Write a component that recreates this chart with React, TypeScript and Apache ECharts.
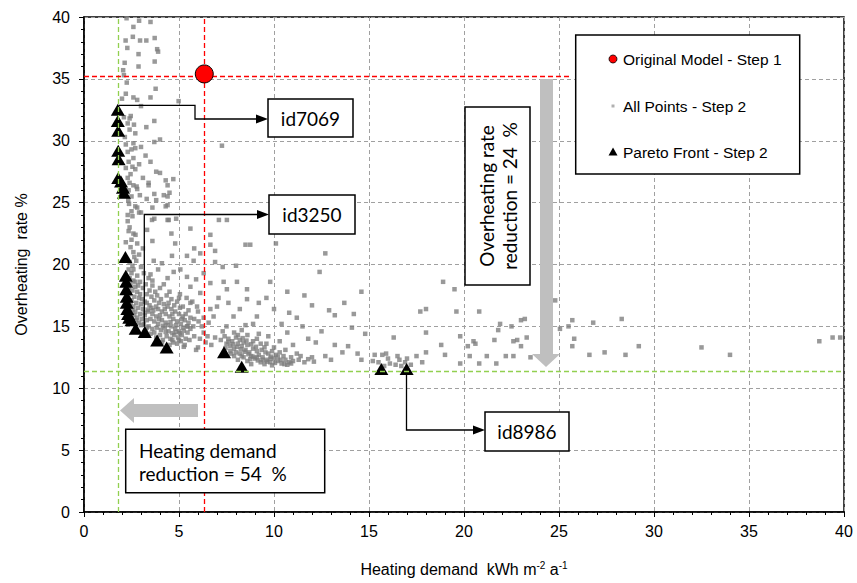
import React, { useEffect, useRef } from "react";
import * as echarts from "echarts";

// ---------- DATA ----------
const xTickValues = [0, 5, 10, 15, 20, 25, 30, 35, 40];
const yTickValues = [0, 5, 10, 15, 20, 25, 30, 35, 40];

const originalModel: [number, number][] = [[6.33, 35.4]];

const paretoFront: [number, number][] = [
  [1.78, 32.5], [1.78, 31.6], [1.8, 30.8], [1.8, 29.2], [1.82, 28.5], [1.8, 27.0],
  [1.95, 26.7], [2.05, 26.2], [2.1, 25.8], [2.18, 20.6], [2.2, 19.1], [2.22, 18.6],
  [2.22, 18.0], [2.25, 17.4], [2.25, 16.9], [2.28, 16.4], [2.32, 16.0], [2.38, 15.7],
  [2.5, 15.5], [2.72, 14.8], [3.2, 14.55], [3.85, 13.85], [4.35, 13.3], [7.37, 12.9],
  [8.3, 11.74], [15.65, 11.55], [16.98, 11.55],
];

const pointsTop: [number, number][] = [
  [2.24, 39.9], [3.5, 39.6], [2.6, 39.2], [2.9, 39.7], [2.19, 38.1], [2.57, 38.4], [2.95, 38.1],
  [3.28, 38.1], [3.72, 38.3], [3.85, 37.4], [2.28, 37.5], [2.87, 37.0], [3.9, 37.2], [3.72, 36.4],
  [2.14, 36.3], [2.87, 36.0], [2.06, 35.7], [2.1, 35.3], [2.25, 34.7], [3.77, 34.2], [2.2, 33.8],
  [2.6, 33.5], [2.8, 33.3], [2.0, 33.4], [3.5, 33.5], [3.0, 32.8], [4.98, 33.2], [2.4, 31.8],
  [3.7, 31.6], [2.3, 31.4], [2.46, 32.0], [2.63, 31.3], [3.28, 31.1], [2.7, 30.6], [4.0, 30.1],
  [3.7, 29.9], [2.6, 29.8], [2.7, 29.4], [7.26, 29.6], [2.15, 30.3], [2.3, 29.1], [2.2, 27.8],
  [2.35, 28.3], [2.5, 29.3], [2.2, 29.7], [2.4, 30.9], [2.1, 31.9], [2.55, 27.9], [2.3, 27.0],
  [2.7, 27.7], [3.1, 27.0], [3.0, 29.5], [2.4, 26.6],
];

const pointsUpperBand: [number, number][] = [
  [3.24, 28.8], [2.6, 28.6], [3.5, 28.3], [2.9, 28.1], [3.8, 27.5], [4.0, 27.4], [2.45, 27.3],
  [4.7, 26.9], [4.3, 26.8], [3.4, 26.6], [2.6, 26.4], [2.8, 26.1], [3.7, 25.7], [4.2, 25.6],
  [4.5, 25.8], [3.3, 25.3], [3.8, 25.2], [2.37, 24.9], [2.8, 24.6], [2.9, 24.2], [4.3, 24.7],
  [3.6, 24.6], [2.77, 26.3], [3.4, 26.4], [4.4, 26.4], [2.94, 25.6], [4.4, 25.5], [2.33, 25.2],
  [2.7, 24.7], [2.5, 24.3], [3.0, 24.2], [4.4, 24.8], [3.7, 23.7], [4.4, 23.6], [4.85, 23.7],
  [5.6, 22.9], [2.6, 22.5], [2.8, 21.7], [3.6, 21.9], [4.6, 22.5], [5.8, 21.3], [7.1, 23.6],
  [8.5, 21.6], [10.1, 21.7], [12.7, 20.9], [12.4, 19.4], [2.71, 22.4], [3.32, 22.8], [3.58, 23.6],
  [4.46, 23.6], [6.65, 22.4], [7.52, 23.6], [8.75, 21.6], [6.9, 21.1], [6.12, 20.9], [5.42, 20.7],
  [4.63, 20.7], [3.67, 20.3], [4.1, 20.1], [4.8, 21.7], [5.77, 20.3], [6.65, 21.6], [2.3, 23.5],
  [2.4, 23.0], [2.5, 22.0], [2.45, 21.4], [2.6, 21.0], [2.35, 22.7], [2.55, 23.9], [2.65, 20.6],
  [2.9, 20.8], [3.1, 21.3], [2.4, 20.2], [2.2, 21.8], [2.3, 24.0], [2.5, 25.5], [2.35, 26.0],
];

const pointsTrail: [number, number][] = [
  [5.07, 19.6], [5.42, 19.0], [6.65, 18.5], [7.35, 18.6], [8.05, 18.6], [7.52, 18.0], [8.58, 18.0],
  [8.58, 17.2], [7.08, 17.3], [6.12, 17.7], [5.6, 18.2], [6.65, 16.4], [6.82, 15.8], [5.95, 16.6],
  [7.0, 16.6], [7.87, 15.8], [9.1, 15.8], [6.03, 15.4], [6.56, 15.3], [5.42, 15.0], [4.72, 19.4],
  [3.5, 19.2], [10.7, 17.8], [11.6, 17.5], [14.6, 17.8], [13.7, 16.9], [13.2, 15.9], [14.2, 16.0],
  [10.0, 16.4], [10.8, 16.1], [12.9, 16.3], [12.0, 16.7], [9.6, 17.3], [9.2, 16.9], [8.2, 16.4],
  [8.9, 15.2], [7.6, 16.9], [6.3, 19.3], [5.9, 18.8], [4.4, 18.9], [3.9, 19.6], [4.2, 18.4],
  [9.8, 18.6], [11.2, 15.7], [10.4, 15.2], [7.3, 19.8], [8.0, 19.9], [6.9, 20.2],
];

const pointsMainCluster: [number, number][] = [
  [2.35, 19.6], [2.5, 19.3], [2.4, 18.9], [2.6, 18.7], [2.45, 18.4], [2.7, 18.2], [2.55, 17.9],
  [2.8, 17.8], [2.4, 17.6], [2.65, 17.4], [2.9, 17.3], [2.5, 17.1], [2.75, 16.9], [3.0, 16.8],
  [2.6, 16.6], [2.85, 16.5], [3.1, 16.4], [2.7, 16.2], [2.95, 16.0], [3.2, 15.9], [2.8, 15.7],
  [3.05, 15.6], [3.3, 15.5], [2.9, 15.3], [3.15, 15.2], [2.55, 16.3], [2.45, 16.9], [2.6, 19.6],
  [2.8, 19.1], [2.95, 18.6], [3.1, 18.1], [3.3, 17.6], [3.2, 17.0], [3.45, 16.7], [3.0, 19.8],
  [3.4, 18.9], [3.6, 18.3], [3.75, 17.8], [2.35, 18.1], [3.4, 16.2], [3.6, 16.0], [3.8, 15.8],
  [3.5, 15.6], [3.7, 15.4], [3.9, 15.2], [4.1, 15.5], [4.3, 15.3], [3.4, 15.0], [3.6, 14.8],
  [3.85, 14.9], [4.05, 14.7], [4.25, 14.9], [4.45, 14.6], [4.6, 15.0], [4.8, 14.8], [5.0, 14.6],
  [5.2, 14.9], [4.35, 14.2], [4.55, 14.0], [4.75, 14.3], [4.95, 14.1], [5.15, 14.3], [5.35, 14.0],
  [4.7, 13.7], [4.9, 13.6], [5.1, 13.8], [5.3, 13.5], [4.5, 13.5], [5.45, 14.5], [3.9, 16.4],
  [4.1, 16.2], [4.3, 16.0], [4.5, 15.8], [4.7, 15.6], [4.9, 15.4], [5.1, 15.2], [5.3, 15.5],
  [4.2, 16.8], [4.4, 16.6], [4.6, 16.4], [4.8, 16.2], [5.0, 16.0], [5.2, 15.8], [3.7, 17.1],
  [3.95, 16.9], [4.6, 17.2], [4.9, 17.0], [5.2, 16.6], [5.5, 16.3], [5.5, 15.3], [4.0, 14.3],
  [3.7, 14.5], [3.3, 14.9], [5.6, 14.8], [5.8, 15.6], [5.7, 17.0], [4.35, 17.5], [3.55, 17.4],
  [5.05, 17.6], [5.4, 17.3], [3.2, 16.1], [4.15, 13.9], [5.55, 13.9], [4.65, 14.45], [4.85, 15.1],
  [5.05, 14.45], [4.4, 15.1], [4.0, 15.9], [3.55, 16.5], [2.65, 15.9], [5.8, 14.2], [6.1, 14.0],
  [6.4, 13.7], [6.7, 13.5], [6.0, 13.3], [6.3, 14.5], [6.9, 14.1], [5.9, 13.1],
  [2.5, 15.9], [2.75, 15.5], [3.0, 15.1], [3.25, 14.7], [3.5, 14.4], [3.8, 14.1], [4.1, 13.7],
  [3.45, 17.9], [3.85, 17.5], [4.05, 17.2], [4.45, 16.9], [4.75, 16.7], [5.05, 16.5], [5.35, 16.0],
  [5.6, 15.7], [5.75, 15.0], [5.25, 14.65], [4.55, 15.35], [4.15, 15.05], [3.95, 15.6], [3.65, 16.3],
  [3.3, 16.9], [2.95, 17.6], [2.7, 18.6], [2.55, 19.9], [2.75, 20.3], [3.15, 19.3], [3.6, 18.7],
  [4.0, 18.1], [4.5, 17.8], [5.0, 17.3], [5.6, 16.9], [6.0, 16.2], [6.3, 15.7], [6.2, 15.0],
  [6.5, 14.2], [5.0, 13.9], [4.65, 13.9], [5.25, 13.35], [4.3, 14.55], [4.85, 14.55], [5.45, 15.0],
  [3.8, 16.6], [4.25, 16.4], [4.65, 16.0], [5.15, 15.6], [3.35, 16.35], [3.05, 17.2], [2.85, 18.3],
  [3.25, 18.4],
];

const pointsSecondCluster: [number, number][] = [
  [7.4, 14.2], [7.6, 14.0], [7.8, 13.8], [7.5, 13.6], [7.7, 13.4], [7.9, 13.2], [8.1, 13.6],
  [8.3, 13.4], [8.0, 14.1], [8.2, 13.9], [8.4, 13.7], [8.6, 13.5], [8.5, 13.1], [8.7, 12.9],
  [8.9, 13.2], [9.1, 13.0], [8.8, 12.6], [9.0, 12.4], [9.2, 12.7], [9.4, 12.5], [9.6, 12.3],
  [9.3, 12.1], [9.5, 11.95], [9.8, 12.1], [10.0, 12.4], [10.2, 12.2], [10.4, 12.0], [10.6, 12.3],
  [10.8, 12.1], [11.0, 12.2], [9.7, 12.8], [9.9, 13.0], [10.1, 12.7], [10.3, 12.9], [9.5, 13.3],
  [9.3, 13.6], [8.9, 13.8], [9.1, 14.0], [8.6, 14.3], [7.3, 14.6], [7.9, 14.5], [8.8, 11.95],
  [8.6, 12.2], [8.4, 12.5], [10.5, 12.6], [10.9, 12.5], [11.3, 12.3], [11.6, 12.1], [10.7, 11.9],
  [9.9, 11.85], [8.2, 12.8], [8.0, 12.9], [7.7, 13.0], [7.9, 12.6], [8.1, 12.3], [9.6, 13.6],
  [10.0, 13.3], [10.6, 13.1], [11.2, 12.8], [9.2, 14.4], [8.3, 14.7], [7.5, 15.0], [7.2, 13.9],
  [8.5, 15.1], [9.7, 14.2], [10.3, 13.8], [11.0, 13.5], [8.75, 12.35], [9.15, 12.25], [9.85, 12.55],
  [7.6, 13.75], [7.85, 13.55], [8.05, 13.35], [8.25, 13.15], [8.45, 12.95], [8.65, 12.75], [8.9, 12.55],
  [9.1, 12.5], [9.4, 12.3], [9.65, 12.15], [10.05, 12.05], [10.35, 12.3], [10.55, 11.95], [8.1, 14.3],
  [8.35, 14.05], [8.55, 13.85], [8.8, 13.55], [9.05, 13.35], [9.35, 13.1], [9.55, 12.9], [10.2, 12.55],
  [7.45, 13.25], [7.75, 12.8], [8.3, 12.6], [9.8, 12.4], [10.9, 12.0], [11.4, 12.6], [11.8, 12.35],
  [12.1, 12.15],
];

const pointsMiddle: [number, number][] = [
  [12.2, 13.7], [13.2, 13.5], [13.6, 12.9], [14.4, 12.8], [14.8, 14.4], [12.7, 12.6], [13.9, 13.4],
  [11.8, 14.0], [12.5, 14.6], [11.5, 15.0], [14.1, 14.9], [10.7, 14.5], [13.0, 12.3], [12.0, 12.5],
  [14.6, 12.3], [15.3, 12.7], [15.7, 12.7], [15.9, 12.8], [16.3, 14.1], [16.6, 12.3], [16.9, 12.1],
  [17.5, 12.6], [15.5, 12.1], [16.1, 12.0], [16.4, 11.9], [15.8, 11.8], [16.7, 11.8], [17.2, 11.9],
  [17.8, 12.1], [15.2, 12.2], [16.0, 12.4], [16.5, 12.6], [17.0, 12.4],
];

const pointsFar: [number, number][] = [
  [17.7, 16.2], [18.0, 16.4], [18.9, 18.6], [19.5, 18.0], [19.6, 16.2], [18.0, 14.5], [18.0, 12.9],
  [18.8, 13.5], [19.0, 12.7], [19.8, 14.2], [19.8, 12.0], [20.2, 13.4], [20.3, 12.6], [20.5, 13.8],
  [20.8, 12.0], [20.8, 16.2], [20.6, 13.6], [21.2, 12.6], [21.6, 13.9], [21.7, 12.0], [21.8, 14.7],
  [21.9, 15.2], [22.5, 15.0], [22.6, 13.8], [22.8, 13.9], [23.0, 15.5], [23.2, 15.6], [23.3, 14.1],
  [23.0, 13.4], [22.2, 12.6], [22.6, 12.6], [23.5, 12.5], [24.8, 17.1], [25.05, 14.8], [25.5, 15.0],
  [25.7, 15.5], [25.8, 14.0], [25.7, 13.4], [26.6, 12.7], [26.8, 15.3], [27.4, 12.9], [28.3, 15.6],
  [28.5, 12.7], [29.2, 13.4], [32.5, 13.3], [34.0, 12.7], [38.7, 13.8], [39.4, 14.1], [39.8, 14.1],
];

const allPoints: [number, number][] = [
  ...pointsTop, ...pointsUpperBand, ...pointsTrail, ...pointsMainCluster,
  ...pointsSecondCluster, ...pointsMiddle, ...pointsFar,
];

const refOriginalX = 6.33;
const refOriginalY = 35.2;
const refOriginalYEnd = 25.6;
const refBestX = 1.82;
const refBestY = 11.35;

const legendNames = ["Original Model - Step 1", "All Points - Step 2", "Pareto Front - Step 2"];
const annotationTexts = {
  id7069: "id7069",
  id3250: "id3250",
  id8986: "id8986",
  heating: "Heating demand\nreduction = 54  %",
  overheating: "Overheating rate\nreduction = 24  %",
};

// ---------- STYLES ----------
const AX_FONT = "'Liberation Sans', Arial, sans-serif";
const NOTE_FONT = "Lato, 'Open Sans', sans-serif";

function box(x: number, y: number, w: number, h: number) {
  return {
    type: "rect",
    z: 20,
    shape: { x, y, width: w, height: h },
    style: { fill: "#fff", stroke: "#000", lineWidth: 1.5 },
  };
}
function noteText(x: number, y: number, text: string, extra: any = {}) {
  return {
    type: "text",
    z: 21,
    x,
    y,
    ...extra,
    style: {
      text,
      fontSize: 19,
      fontFamily: NOTE_FONT,
      fill: "#000",
      align: "center",
      verticalAlign: "middle",
      lineHeight: 23,
      ...(extra.style || {}),
    },
  };
}
function poly(points: number[][]) {
  return {
    type: "polyline",
    z: 19,
    shape: { points },
    style: { stroke: "#000", lineWidth: 1.3, fill: null },
  };
}
function head(points: number[][], fill = "#000") {
  return { type: "polygon", z: 19, shape: { points }, style: { fill, stroke: null } };
}

export default function App() {
  const ref = useRef<HTMLDivElement>(null);

  useEffect(() => {
    if (!ref.current) return;
    const chart = echarts.init(ref.current, undefined, { renderer: "svg" });

    const axisCommon = {
      min: 0,
      max: 40,
      interval: 5,
      axisLine: { show: true, lineStyle: { color: "#000", width: 1.5 } },
      axisTick: { show: true, length: 5, lineStyle: { color: "#000", width: 1 } },
      minorTick: { show: true, splitNumber: 5, length: 3, lineStyle: { color: "#000", width: 1 } },
      splitLine: { show: true, lineStyle: { color: "#a0a0a0", type: [4, 3], width: 1 } },
      axisLabel: { color: "#000", fontSize: 16, fontFamily: AX_FONT, margin: 11 },
    };

    const option: any = {
      animation: false,
      backgroundColor: "#fff",
      grid: {
        left: 84,
        right: 13,
        top: 17,
        bottom: 70,
        show: true,
        borderColor: "#000",
        borderWidth: 1.5,
        backgroundColor: "transparent",
      },
      xAxis: {
        ...axisCommon,
        type: "value",
        name: "{t|Heating demand  kWh m}{s|-2}{t| a}{s|-1}",
        nameLocation: "middle",
        nameGap: 47,
        nameTextStyle: {
          rich: {
            t: { fontSize: 16, fontFamily: AX_FONT, color: "#000", lineHeight: 20 },
            s: { fontSize: 10, fontFamily: AX_FONT, color: "#000", lineHeight: 20, padding: [0, 0, 8, 0] },
          },
        },
        axisLabel: { ...axisCommon.axisLabel, formatter: (v: number) => (xTickValues.includes(v) ? String(v) : "") },
      },
      yAxis: {
        ...axisCommon,
        type: "value",
        name: "Overheating  rate %",
        nameLocation: "middle",
        nameGap: 55,
        nameTextStyle: { fontSize: 16, fontFamily: AX_FONT, color: "#000" },
        axisLabel: { ...axisCommon.axisLabel, margin: 14, formatter: (v: number) => (yTickValues.includes(v) ? String(v) : "") },
      },
      legend: { show: false },
      series: [
        {
          name: legendNames[1],
          type: "scatter",
          data: allPoints,
          symbol: "rect",
          symbolSize: 4.5,
          itemStyle: { color: "#7c7c7c", opacity: 0.78 },
          z: 2,
        },
        {
          name: legendNames[2],
          type: "scatter",
          data: paretoFront,
          symbol: "triangle",
          symbolSize: [14, 12],
          itemStyle: { color: "#000", opacity: 1 },
          z: 4,
          markLine: {
            silent: true,
            symbol: "none",
            label: { show: false },
            lineStyle: { color: "#92d050", type: [5, 3], width: 1.3, opacity: 1 },
            data: [{ xAxis: refBestX }, { yAxis: refBestY }],
          },
        },
        {
          name: legendNames[0],
          type: "scatter",
          data: originalModel,
          symbol: "circle",
          symbolSize: 18,
          itemStyle: { color: "#ff0000", borderColor: "#000", borderWidth: 1, opacity: 1 },
          z: 5,
          markLine: {
            silent: true,
            symbol: "none",
            label: { show: false },
            lineStyle: { color: "#ff0000", type: [5, 3], width: 1.3, opacity: 1 },
            data: [
              { xAxis: refOriginalX },
              [{ coord: [0, refOriginalY] }, { coord: [refOriginalYEnd, refOriginalY] }],
            ],
          },
        },
      ],
      graphic: [
        // gray arrows
        { type: "rect", z: 15, shape: { x: 133, y: 404, width: 65, height: 13 }, style: { fill: "#bfbfbf" } },
        head([[120, 410.5], [134, 398], [134, 423]], "#bfbfbf"),
        { type: "rect", z: 15, shape: { x: 540, y: 79, width: 13, height: 276 }, style: { fill: "#bfbfbf" } },
        head([[532, 354], [560, 354], [546, 367]], "#bfbfbf"),
        // connector arrows
        poly([[119, 105.3], [195, 105.3], [195, 119], [257, 119]]),
        head([[256, 114.5], [268, 119], [256, 123.5]]),
        poly([[144.3, 326.7], [144.3, 214.5], [258, 214.5]]),
        head([[257, 210], [269, 214.5], [257, 219]]),
        poly([[406.5, 373], [406.5, 430], [474, 430]]),
        head([[473, 425.5], [485, 430], [473, 434.5]]),
        // annotation boxes
        box(268, 99, 85, 38),
        noteText(310.5, 118.5, annotationTexts.id7069),
        box(269, 195, 86, 39),
        noteText(312, 214.5, annotationTexts.id3250),
        box(485, 412, 84, 39),
        noteText(527, 431.5, annotationTexts.id8986),
        box(125.7, 429.3, 199, 63.4),
        noteText(139, 461.5, annotationTexts.heating, { style: { align: "left" } }),
        box(465, 107, 65, 178),
        noteText(498, 196, annotationTexts.overheating, { rotation: Math.PI / 2 }),
        // legend
        box(575.7, 35, 224, 139),
        { type: "circle", z: 21, shape: { cx: 613, cy: 59, r: 4 }, style: { fill: "#ff0000", stroke: "#000", lineWidth: 0.8 } },
        { type: "rect", z: 21, shape: { x: 611.5, y: 104.5, width: 3, height: 3 }, style: { fill: "#b0b0b0" } },
        { type: "polygon", z: 21, shape: { points: [[613, 147.5], [617.5, 155.5], [608.5, 155.5]] }, style: { fill: "#000" } },
        ...legendNames.map((n, i) => ({
          type: "text",
          z: 21,
          x: 623,
          y: [59, 106, 152][i],
          style: { text: n, fontSize: 15.5, fontFamily: AX_FONT, fill: "#000", verticalAlign: "middle", align: "left" },
        })),
      ],
    };

    chart.setOption(option);
    return () => chart.dispose();
  }, []);

  return (
    <div
      ref={ref}
      style={{ position: "fixed", left: 0, top: 0, width: 857, height: 583, background: "#fff" }}
    />
  );
}
